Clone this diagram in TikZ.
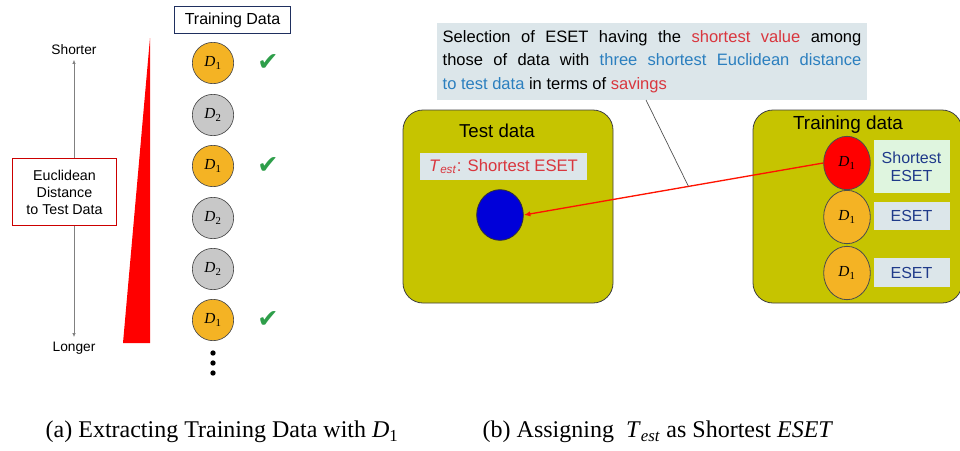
\documentclass[tikz,border=0pt]{standalone}
\usepackage{fontspec}
\setmainfont{Liberation Serif}
\setsansfont{Liberation Sans}
\newfontfamily\dejavu{DejaVu Sans}
\usetikzlibrary{arrows.meta,calc,shapes.geometric}
\definecolor{dorange}{HTML}{F4B324}
\definecolor{dgray}{HTML}{C8C8C8}
\definecolor{olive}{HTML}{C6C400}
\definecolor{boxbg}{HTML}{DCE6EA}
\definecolor{greenbg}{HTML}{DFF5DF}
\definecolor{chk}{HTML}{2E9E4A}
\definecolor{tred}{HTML}{D9363E}
\definecolor{tblue}{HTML}{2B7FBF}
\definecolor{navy}{HTML}{1F2F5F}
\definecolor{dblue}{HTML}{1F3A8A}
\tikzset{
  circ/.style={circle, draw=black!70, line width=0.5pt, minimum size=31pt, inner sep=0pt, font=\fontsize{11.5}{12}\selectfont},
  ell/.style={ellipse, draw=black!70, line width=0.6pt, minimum width=35pt, minimum height=40pt, inner sep=0pt, font=\fontsize{11.5}{12}\selectfont},
  chkmark/.style={text=chk, font=\dejavu\fontsize{19}{19}\selectfont},
  lbl/.style={font=\sffamily\fontsize{10.3}{12}\selectfont},
  panel/.style={draw=black!75, fill=olive, rounded corners=15pt, line width=0.6pt},
  esetbox/.style={fill=boxbg, minimum width=57pt, inner sep=0pt, text=dblue, font=\sffamily\fontsize{12}{13.5}\selectfont, align=center},
  garrow/.style={draw=black!50, line width=0.5pt, -{Latex[length=3pt,width=2.5pt]}},
}
\newcommand{\Dsub}[1]{\textit{D}\textsubscript{#1}}
\begin{document}
\begin{tikzpicture}[x=0.75pt,y=-0.75pt]
\useasboundingbox (0,0) rectangle (960,450);
% ---------- panel (a)
\node[draw=navy, line width=1pt, minimum width=87pt, minimum height=20pt, inner sep=0pt, font=\sffamily\fontsize{12}{13}\selectfont] (td) at (232.5,20) {Training Data};
\node[lbl] (sh) at (74,50) {Shorter};
\node[draw=red!80!black, line width=1pt, minimum width=78pt, minimum height=50pt, align=center, inner sep=1pt, font=\sffamily\fontsize{10.7}{12.8}\selectfont] (eu) at (64.5,192) {Euclidean\\Distance\\to Test Data};
\node[lbl] (lo) at (74,348) {Longer};
\draw[garrow] (eu.north -| sh) -- (sh.south);
\draw[garrow] (eu.south -| lo) -- (lo.north);
\fill[red] (150,38) -- (150,343) -- (123,343) -- cycle;
\node[circ, fill=dorange] (c1) at (213,63) {\Dsub{1}};
\node[circ, fill=dgray] (c2) at (213,115) {\Dsub{2}};
\node[circ, fill=dorange] (c3) at (213,166) {\Dsub{1}};
\node[circ, fill=dgray] (c4) at (213,218) {\Dsub{2}};
\node[circ, fill=dgray] (c5) at (213,269) {\Dsub{2}};
\node[circ, fill=dorange] (c6) at (213,320) {\Dsub{1}};
\node[chkmark] (k1) at (268,63) {✔};
\node[chkmark] (k3) at (268,166) {✔};
\node[chkmark] (k6) at (268,320) {✔};
\foreach \yy in {353,363,373} \fill (213,\yy) circle (2pt);
% ---------- panel (b)
\node[fill=boxbg, minimum width=322pt, minimum height=58pt, inner sep=0pt] (sel) at (652,61.5) {};
\node[text width=314pt, align=justify, inner sep=0pt, font=\sffamily\fontsize{12.4}{17.5}\selectfont] at (sel) {Selection of ESET having the \textcolor{tred}{shortest value} among\linebreak those of data with \textcolor{tblue}{three shortest Euclidean distance}\linebreak \textcolor{tblue}{to test data} in terms of \textcolor{tred}{savings}};
\draw[panel] (403,110) rectangle (613,303);
\draw[panel] (753,110) rectangle (962,303);
\node[font=\sffamily\fontsize{14}{16}\selectfont] (tdl) at (497,131) {Test data};
\node[fill=boxbg, minimum width=125pt, minimum height=20pt, inner sep=0pt, font=\sffamily\fontsize{12.5}{14}\selectfont, text=tred] (tl) at (503.5,166.5) {\textit{T}\textsubscript{\textit{est}}: Shortest ESET};
\node[ellipse, draw=black!80, fill=blue!85!black, line width=0.6pt, minimum width=35pt, minimum height=38pt, inner sep=0pt] (te) at (500,215) {};
\node[font=\sffamily\fontsize{14.2}{16}\selectfont] (trl) at (848,125) {Training data};
\node[ell, fill=red] (r1) at (847,163) {\Dsub{1}};
\node[ell, fill=dorange] (r2) at (847,217) {\Dsub{1}};
\node[ell, fill=dorange] (r3) at (847,273) {\Dsub{1}};
\node[esetbox, fill=greenbg, minimum height=40pt] (e1) at (911.5,166.5) {Shortest\\ESET};
\node[esetbox, minimum height=21pt] (e2) at (911.5,216) {ESET};
\node[esetbox, minimum height=22pt] (e3) at (911.5,272.5) {ESET};
\draw[red!85!orange, line width=1pt, -{Latex[length=5pt,width=4pt]}] (r1.west) -- coordinate[pos=0.45] (mid) (te.east);
\draw[black!70, line width=0.5pt] (646,100) -- (mid);
% ---------- captions
\node[anchor=west, font=\fontsize{18}{20}\selectfont] (capa) at (41,432) {(a) Extracting Training Data with \Dsub{1}};
\node[anchor=west, font=\fontsize{18}{20}\selectfont] (capb) at (478,432) {(b) Assigning \ \textit{T}\textsubscript{\textit{est}} as Shortest \textit{ESET}};
\end{tikzpicture}
\end{document}
